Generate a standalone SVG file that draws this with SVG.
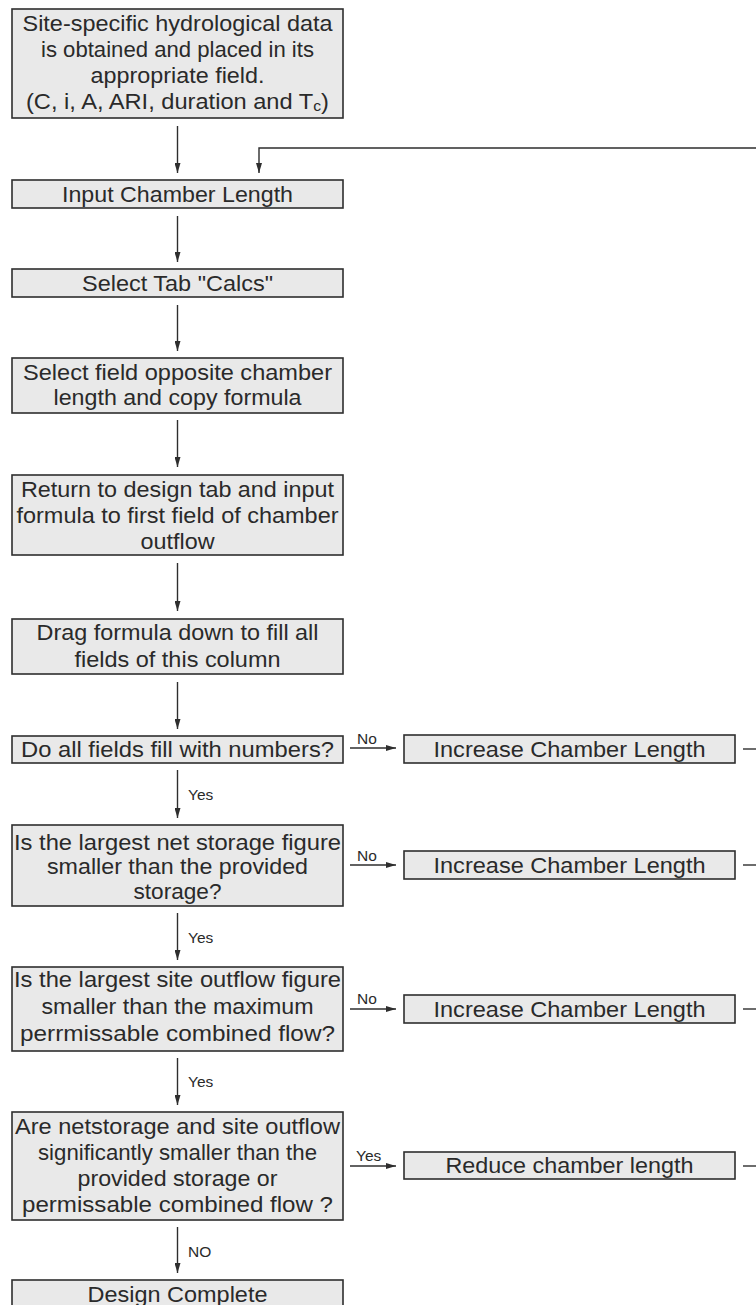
<svg xmlns="http://www.w3.org/2000/svg" width="756" height="1305" viewBox="0 0 756 1305">
<style>
.box{fill:#e9e9e9;stroke:#2e2e2e;stroke-width:1.6}
.t{font-family:"Liberation Sans",Arial,sans-serif;font-size:22.5px;fill:#2a2a2a;text-anchor:middle}
.lbl{font-family:"Liberation Sans",Arial,sans-serif;font-size:15.5px;fill:#2a2a2a}
.c{stroke:#2e2e2e;stroke-width:1.4;fill:none}
.a{marker-end:url(#ah)}
</style>
<defs>
<marker id="ah" viewBox="0 0 10 6" refX="10" refY="3" markerWidth="10" markerHeight="6" markerUnits="userSpaceOnUse" orient="auto">
<path d="M0,0 L10,3 L0,6 z" fill="#2e2e2e"/>
</marker>
</defs>
<rect width="756" height="1305" fill="#ffffff"/>
<g id="connectors">
<line class="c a" x1="177.5" y1="126" x2="177.5" y2="173"/>
<polyline class="c a" points="756,148 259,148 259,173"/>
<line class="c a" x1="177.5" y1="216" x2="177.5" y2="262"/>
<line class="c a" x1="177.5" y1="305" x2="177.5" y2="351"/>
<line class="c a" x1="177.5" y1="420" x2="177.5" y2="467"/>
<line class="c a" x1="177.5" y1="563" x2="177.5" y2="611"/>
<line class="c a" x1="177.5" y1="682" x2="177.5" y2="729"/>
<line class="c a" x1="177.5" y1="770" x2="177.5" y2="818"/>
<line class="c a" x1="177.5" y1="913" x2="177.5" y2="960"/>
<line class="c a" x1="177.5" y1="1058" x2="177.5" y2="1105"/>
<line class="c a" x1="177.5" y1="1227" x2="177.5" y2="1273"/>
<line class="c a" x1="350" y1="748" x2="396" y2="748"/>
<line class="c a" x1="350" y1="865" x2="396" y2="865"/>
<line class="c a" x1="350" y1="1009" x2="396" y2="1009"/>
<line class="c a" x1="350" y1="1166" x2="396" y2="1166"/>
<line class="c" x1="743" y1="749" x2="756" y2="749"/>
<line class="c" x1="743" y1="865" x2="756" y2="865"/>
<line class="c" x1="743" y1="1009" x2="756" y2="1009"/>
<line class="c" x1="743" y1="1166" x2="756" y2="1166"/>
<text class="lbl" x="188" y="800">Yes</text>
<text class="lbl" x="188" y="943">Yes</text>
<text class="lbl" x="188" y="1087">Yes</text>
<text class="lbl" x="188" y="1257">NO</text>
<text class="lbl" x="357" y="744">No</text>
<text class="lbl" x="357" y="861">No</text>
<text class="lbl" x="357" y="1004">No</text>
<text class="lbl" x="356" y="1161">Yes</text>
</g>
<g id="n1">
<rect class="box" x="12" y="9" width="331" height="109"/>
<text class="t" x="177.5" y="31" textLength="310" lengthAdjust="spacingAndGlyphs">Site-specific hydrological data</text>
<text class="t" x="177.5" y="57" textLength="273" lengthAdjust="spacingAndGlyphs">is obtained and placed in its</text>
<text class="t" x="177.5" y="83" textLength="174" lengthAdjust="spacingAndGlyphs">appropriate field.</text>
<text class="t" x="177.5" y="109" textLength="303" lengthAdjust="spacingAndGlyphs">(C, i, A, ARI, duration and T<tspan font-size="15" dy="2">c</tspan><tspan dy="-2">)</tspan></text>
</g>
<g id="n2">
<rect class="box" x="12" y="180" width="331" height="28"/>
<text class="t" x="177.5" y="201.5" textLength="231" lengthAdjust="spacingAndGlyphs">Input Chamber Length</text>
</g>
<g id="n3">
<rect class="box" x="12" y="269" width="331" height="28"/>
<text class="t" x="177.5" y="290.5" textLength="191" lengthAdjust="spacingAndGlyphs">Select Tab "Calcs"</text>
</g>
<g id="n4">
<rect class="box" x="12" y="358" width="331" height="55"/>
<text class="t" x="177.5" y="380" textLength="309" lengthAdjust="spacingAndGlyphs">Select field opposite chamber</text>
<text class="t" x="177.5" y="405" textLength="248" lengthAdjust="spacingAndGlyphs">length and copy formula</text>
</g>
<g id="n5">
<rect class="box" x="12" y="475" width="331" height="80"/>
<text class="t" x="177.5" y="497" textLength="313" lengthAdjust="spacingAndGlyphs">Return to design tab and input</text>
<text class="t" x="177.5" y="523" textLength="322" lengthAdjust="spacingAndGlyphs">formula to first field of chamber</text>
<text class="t" x="177.5" y="549" textLength="74" lengthAdjust="spacingAndGlyphs">outflow</text>
</g>
<g id="n6">
<rect class="box" x="12" y="619" width="331" height="55"/>
<text class="t" x="177.5" y="640" textLength="282" lengthAdjust="spacingAndGlyphs">Drag formula down to fill all</text>
<text class="t" x="177.5" y="667" textLength="206" lengthAdjust="spacingAndGlyphs">fields of this column</text>
</g>
<g id="n7">
<rect class="box" x="12" y="736" width="331" height="27"/>
<text class="t" x="177.5" y="757" textLength="313" lengthAdjust="spacingAndGlyphs">Do all fields fill with numbers?</text>
</g>
<g id="n8">
<rect class="box" x="12" y="825" width="331" height="81"/>
<text class="t" x="177.5" y="850" textLength="327" lengthAdjust="spacingAndGlyphs">Is the largest net storage figure</text>
<text class="t" x="177.5" y="874" textLength="261" lengthAdjust="spacingAndGlyphs">smaller than the provided</text>
<text class="t" x="177.5" y="899" textLength="88" lengthAdjust="spacingAndGlyphs">storage?</text>
</g>
<g id="n9">
<rect class="box" x="12" y="967" width="331" height="84"/>
<text class="t" x="177.5" y="987" textLength="327" lengthAdjust="spacingAndGlyphs">Is the largest site outflow figure</text>
<text class="t" x="177.5" y="1014" textLength="272" lengthAdjust="spacingAndGlyphs">smaller than the maximum</text>
<text class="t" x="177.5" y="1041" textLength="315" lengthAdjust="spacingAndGlyphs">perrmissable combined flow?</text>
</g>
<g id="n10">
<rect class="box" x="12" y="1112" width="331" height="108"/>
<text class="t" x="177.5" y="1134" textLength="325" lengthAdjust="spacingAndGlyphs">Are netstorage and site outflow</text>
<text class="t" x="177.5" y="1160" textLength="279" lengthAdjust="spacingAndGlyphs">significantly smaller than the</text>
<text class="t" x="177.5" y="1186" textLength="200" lengthAdjust="spacingAndGlyphs">provided storage or</text>
<text class="t" x="177.5" y="1212" textLength="311" lengthAdjust="spacingAndGlyphs">permissable combined flow ?</text>
</g>
<g id="n11">
<rect class="box" x="12" y="1280" width="331" height="40"/>
<text class="t" x="177.5" y="1302" textLength="180" lengthAdjust="spacingAndGlyphs">Design Complete</text>
</g>
<g id="r1">
<rect class="box" x="404" y="735" width="331" height="28"/>
<text class="t" x="569.5" y="757" textLength="272" lengthAdjust="spacingAndGlyphs">Increase Chamber Length</text>
</g>
<g id="r2">
<rect class="box" x="404" y="851" width="331" height="28"/>
<text class="t" x="569.5" y="873" textLength="272" lengthAdjust="spacingAndGlyphs">Increase Chamber Length</text>
</g>
<g id="r3">
<rect class="box" x="404" y="995" width="331" height="28"/>
<text class="t" x="569.5" y="1017" textLength="272" lengthAdjust="spacingAndGlyphs">Increase Chamber Length</text>
</g>
<g id="r4">
<rect class="box" x="404" y="1152" width="331" height="27"/>
<text class="t" x="569.5" y="1173" textLength="248" lengthAdjust="spacingAndGlyphs">Reduce chamber length</text>
</g>
</svg>
